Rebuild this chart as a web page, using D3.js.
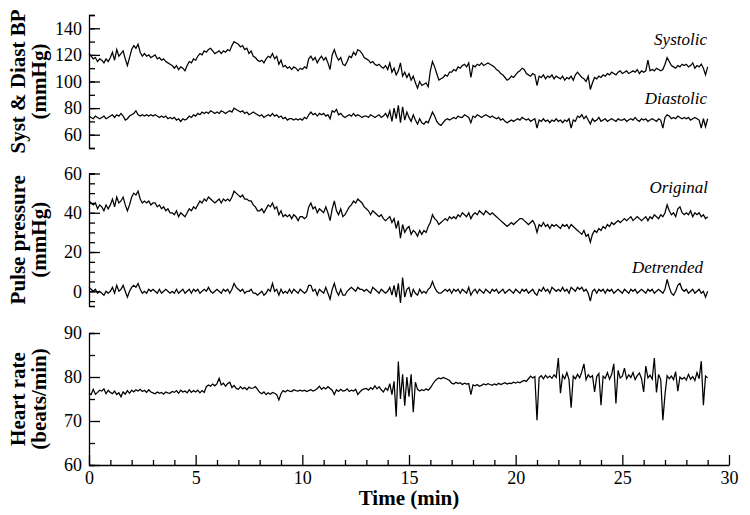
<!DOCTYPE html>
<html>
<head>
<meta charset="utf-8">
<script src="https://cdn.jsdelivr.net/npm/d3@7"></script>
<style>
  body { margin: 0; background: #fff; }
  svg { display: block; font-family: "Liberation Serif", "Times New Roman", serif; }
</style>
</head>
<body>
<div id="chart"></div>
<script>
// one value every 0.1 min, one row per minute (last value = 29.0 min)
const sampleStep = 0.1;

const systolic = [
  121,119,117,118,115,117,116,114,117,115,
  118,122,116,124,119,121,123,117,112,118,
  124,127,125,128,122,119,121,119,120,118,
  119,120,117,118,116,117,115,114,113,112,
  110,112,109,111,110,108,112,115,114,117,
  116,119,121,120,123,122,124,125,123,121,
  122,123,121,123,122,124,123,127,130,129,
  128,126,127,124,125,121,123,119,118,116,
  115,116,114,117,119,118,121,117,119,113,
  116,111,112,110,111,109,111,110,108,110,
  109,111,110,117,119,116,118,114,117,119,
  116,118,114,109,120,124,119,116,118,113,
  112,115,119,118,122,120,124,123,121,118,
  117,116,114,115,113,112,113,111,110,112,
  109,114,107,110,105,108,114,104,107,103,
  106,101,104,99,95,100,97,98,99,96,
  108,115,111,106,101,102,103,105,104,107,
  107,109,108,111,110,112,113,111,114,103,
  112,111,113,112,114,112,113,114,113,112,
  111,109,108,106,105,103,101,102,104,103,
  105,107,108,110,109,106,105,104,106,105,
  97,104,103,105,102,104,103,105,102,104,
  103,102,104,101,103,102,104,101,105,107,
  105,103,102,100,104,94,99,103,102,104,
  103,105,104,106,105,107,106,105,107,108,
  106,107,108,106,107,108,107,109,106,108,
  107,108,116,108,109,108,110,109,108,109,
  113,118,115,112,111,110,112,111,113,112,
  113,111,112,114,110,112,111,113,110,105,
  111
];

const diastolic = [
  74,73,72,74,73,72,73,74,72,73,
  74,75,73,75,74,76,74,71,72,74,
  75,76,78,75,74,75,74,75,74,75,
  74,75,74,73,74,73,74,72,73,72,
  73,71,72,70,72,71,72,74,73,75,
  74,76,75,77,76,77,76,78,77,76,
  77,76,78,77,76,77,78,77,80,79,
  78,77,78,76,77,75,76,77,76,75,
  74,75,73,74,75,74,76,74,75,73,
  74,72,73,71,72,72,71,72,71,72,
  71,73,72,75,77,75,76,74,76,75,
  76,74,75,72,78,77,79,75,76,74,
  73,74,75,74,76,74,75,74,73,74,
  74,73,75,74,73,74,75,73,74,76,
  73,78,70,80,72,82,69,81,71,77,
  73,70,75,71,68,72,69,68,70,69,
  73,77,74,70,68,67,69,71,72,71,
  72,73,72,74,73,73,75,74,73,69,
  74,73,75,74,73,74,75,74,73,74,
  73,72,73,71,72,70,69,70,71,70,
  71,72,71,73,72,71,72,70,71,72,
  65,71,70,72,70,71,69,71,70,72,
  70,71,69,71,70,72,65,71,70,74,
  73,75,72,74,71,68,72,70,71,73,
  70,71,72,70,71,72,71,70,72,71,
  71,72,70,71,72,71,73,71,70,72,
  71,72,70,71,72,71,70,72,71,65,
  73,75,74,72,73,72,74,73,72,73,
  72,73,71,72,73,72,71,65,72,66,
  72
];

const pulseOriginal = [
  46,45,44,45,42,44,43,41,44,42,
  44,47,43,48,45,46,48,44,41,44,
  48,50,49,51,47,45,46,45,46,44,
  45,45,43,44,42,43,41,42,40,40,
  39,41,38,40,39,38,40,42,41,43,
  42,44,46,45,47,46,48,47,46,45,
  46,47,45,47,46,47,46,48,51,50,
  49,48,49,47,47,46,46,44,43,41,
  41,42,40,42,44,43,45,42,43,39,
  41,38,39,38,39,37,39,38,36,38,
  38,37,38,43,45,42,43,40,42,41,
  40,43,40,36,42,46,41,39,42,38,
  39,41,43,44,46,45,47,46,45,43,
  42,41,39,41,40,39,38,39,37,36,
  37,38,35,37,32,36,27,34,30,32,
  33,29,31,30,28,31,29,31,30,33,
  35,39,37,36,34,35,36,37,36,38,
  37,38,37,39,38,40,39,38,40,37,
  39,40,39,41,40,39,41,40,39,40,
  39,38,37,36,35,34,33,34,35,34,
  35,36,37,37,36,35,34,35,36,34,
  30,34,33,35,33,34,32,34,33,34,
  33,32,34,33,34,32,34,33,32,31,
  30,29,31,28,29,25,29,31,30,32,
  31,33,32,34,33,35,34,35,36,35,
  36,37,36,37,38,36,37,38,37,36,
  37,38,36,38,37,39,38,37,39,38,
  40,44,41,39,40,38,42,43,40,39,
  40,39,41,38,40,39,40,38,39,37,
  38
];

const pulseDetrended = [
  2,1,0,1,-1,0,-1,-2,0,-1,
  0,2,-1,3,0,1,3,0,-3,0,
  2,3,2,4,1,-1,0,-1,1,0,
  1,0,-1,1,-1,0,1,0,-1,0,
  -1,1,-1,0,1,-1,0,1,-1,1,
  0,1,-1,0,1,0,2,0,-1,0,
  1,0,-1,1,0,1,-1,1,4,2,
  1,0,1,-1,0,0,1,-1,-1,-2,
  -1,0,-2,-1,1,0,4,0,1,-2,
  1,-1,0,-1,1,-1,1,0,-1,1,
  0,-1,0,3,3,0,1,-2,1,0,
  -1,2,-1,-4,1,4,0,-2,1,-2,
  -2,0,1,2,1,0,2,1,1,0,
  1,0,-1,2,1,0,-1,1,0,-1,
  0,2,-2,3,-3,4,-6,7,-3,1,
  2,-3,1,-1,-2,1,-1,0,-1,1,
  2,5,2,0,-1,-1,0,1,0,1,
  -1,1,0,1,-1,1,0,-1,2,-2,
  0,1,-1,1,0,-1,1,0,-1,1,
  0,1,-1,0,1,-1,0,1,0,-1,
  1,0,-1,1,0,1,-1,0,1,-1,
  -2,1,0,2,0,1,-1,2,1,0,
  1,0,2,0,1,-1,2,1,0,2,
  1,2,0,1,-1,-5,0,1,-1,1,
  0,1,-1,1,0,1,-1,0,1,0,
  -1,1,0,-1,1,0,1,-1,0,1,
  0,-1,1,0,1,-1,0,1,0,-1,
  1,6,2,-1,-2,0,3,4,1,0,
  1,-1,0,1,-1,0,1,-1,0,-3,
  0
];

const heartRate = [
  76.3,76.0,77.2,76.1,76.5,77.0,76.8,77.3,76.2,77.0,
  76.5,76.2,76.8,76.0,76.4,75.5,76.6,76.1,76.9,76.3,
  77.0,76.6,77.1,76.8,77.2,76.7,77.0,76.5,77.1,76.6,
  76.4,76.2,76.6,76.3,76.5,76.1,76.6,76.4,76.3,76.7,
  76.5,76.9,76.3,77.0,76.6,76.8,76.4,77.1,76.5,76.9,
  76.6,77.0,76.4,76.9,76.5,77.8,78.2,77.9,78.4,78.0,
  78.5,79.7,78.2,78.6,77.9,78.5,78.8,77.6,78.1,77.4,
  77.2,77.8,77.3,77.6,77.1,77.7,77.4,77.5,77.8,77.2,
  76.5,76.2,76.6,76.0,76.4,76.1,76.5,76.3,76.0,74.8,
  76.2,76.9,76.6,77.0,76.8,76.7,77.1,76.9,76.8,77.0,
  76.8,77.0,76.7,76.9,77.1,76.8,77.0,77.4,77.9,77.2,
  77.6,77.3,77.8,77.4,77.0,76.0,77.1,76.7,77.2,76.8,
  76.9,77.3,76.7,77.0,76.8,77.2,76.0,76.6,77.1,77.3,
  77.4,77.0,77.6,77.2,78.0,77.3,77.8,77.1,76.6,77.5,
  77.0,78.5,76.0,79.0,71.0,83.5,75.0,80.6,73.5,80.0,
  75.5,80.6,72.0,78.8,77.2,76.8,77.1,76.9,77.3,77.0,
  77.5,78.3,79.0,79.5,79.8,79.6,79.9,79.7,79.5,79.2,
  78.6,78.4,78.8,78.5,78.7,78.3,78.6,78.4,78.5,76.0,
  78.2,78.0,78.3,77.9,78.1,78.4,78.2,78.5,78.3,78.1,
  78.4,78.2,78.6,78.3,78.5,78.7,78.4,78.6,78.5,78.8,
  78.6,78.9,78.7,79.0,79.2,79.0,79.6,80.2,79.8,80.1,
  70.2,79.9,80.3,79.6,80.4,79.8,80.2,79.7,80.5,79.9,
  84.3,76.3,80.4,79.6,81.0,79.4,73.0,80.2,79.6,80.6,
  79.8,81.2,83.0,79.4,80.5,79.9,80.3,76.6,80.1,80.8,
  73.6,80.2,79.7,81.0,79.5,80.6,83.0,74.0,81.5,79.8,
  80.2,82.0,79.6,80.5,79.9,81.0,79.4,80.3,80.9,79.6,
  76.6,82.5,79.8,80.4,79.5,84.3,76.5,80.6,79.4,70.2,
  76.0,80.3,79.6,80.2,79.4,81.2,76.8,80.0,79.5,79.9,
  79.3,80.6,79.5,80.1,79.2,81.0,79.6,83.6,73.6,80.2,
  79.8
];

// tick values
const bpMajor = [60, 80, 100, 120, 140];
const bpMinor = [50, 60, 70, 80, 90, 100, 110, 120, 130, 140, 150];
const ppMajor = [0, 20, 40, 60];
const ppMinor = [-5, 0, 5, 10, 15, 20, 25, 30, 35, 40, 45, 50, 55, 60];
const hrMajor = [60, 70, 80, 90];
const hrMinor = [65, 75, 85];
const timeMajor = [0, 5, 10, 15, 20, 25, 30];
const timeMinor = [1,2,3,4,6,7,8,9,11,12,13,14,16,17,18,19,21,22,23,24,26,27,28,29];

const width = 750, height = 515;
const axisX = 89;

const svg = d3.select("#chart").append("svg")
    .attr("width", width)
    .attr("height", height);

const x = d3.scaleLinear().domain([0, 30]).range([axisX, 729]);

const panels = [
  { domain: [50, 150], range: [148, 15], major: bpMajor, minor: bpMinor,
    title: ["Syst & Diast BP", "(mmHg)"],
    series: [systolic, diastolic],
    notes: [{ text: "Systolic", x: 707, y: 45 }, { text: "Diastolic", x: 707, y: 104 }] },
  { domain: [-7.5, 60], range: [306, 173.5], major: ppMajor, minor: ppMinor,
    title: ["Pulse pressure", "(mmHg)"],
    series: [pulseOriginal, pulseDetrended],
    notes: [{ text: "Original", x: 708, y: 193 }, { text: "Detrended", x: 703, y: 273 }] },
  { domain: [60, 90], range: [465, 333], major: hrMajor, minor: hrMinor,
    title: ["Heart rate", "(beats/min)"],
    series: [heartRate],
    notes: [] }
];

function styleAxis(g) {
  g.selectAll("path, line").attr("stroke", "#000").attr("stroke-width", 1.3);
  g.selectAll("text")
    .attr("font-family", "'Liberation Serif', 'Times New Roman', serif")
    .attr("font-size", 18)
    .attr("fill", "#000");
}

panels.forEach(p => {
  const y = d3.scaleLinear().domain(p.domain).range(p.range);
  const g = svg.append("g");

  // minor ticks (inward)
  g.append("g")
    .attr("transform", `translate(${axisX},0)`)
    .call(d3.axisLeft(y).tickValues(p.minor).tickSizeInner(-6).tickSizeOuter(-6).tickFormat(""))
    .call(styleAxis);

  // major ticks + labels
  g.append("g")
    .attr("transform", `translate(${axisX},0)`)
    .call(d3.axisLeft(y).tickValues(p.major).tickSizeInner(-11).tickSizeOuter(0).tickPadding(7).tickFormat(d3.format("d")))
    .call(styleAxis)
    .call(a => a.select(".domain").remove());

  // traces
  const line = d3.line()
    .x((d, i) => x(i * sampleStep))
    .y(d => y(d));

  p.series.forEach(s => {
    g.append("path")
      .datum(s)
      .attr("fill", "none")
      .attr("stroke", "#000")
      .attr("stroke-width", 1.25)
      .attr("stroke-linejoin", "miter")
      .attr("d", line);
  });

  // italic trace names
  p.notes.forEach(n => {
    g.append("text")
      .attr("x", n.x)
      .attr("y", n.y)
      .attr("text-anchor", "end")
      .attr("font-style", "italic")
      .attr("font-size", 17)
      .text(n.text);
  });

  // y title, two lines
  const cy = (p.range[0] + p.range[1]) / 2;
  p.title.forEach((t, i) => {
    g.append("text")
      .attr("transform", `translate(${i === 0 ? 25 : 46},${cy}) rotate(-90)`)
      .attr("text-anchor", "middle")
      .attr("font-weight", "bold")
      .attr("font-size", 21)
      .text(t);
  });
});

// time axis, bottom panel only
svg.append("g")
  .attr("transform", "translate(0,465)")
  .call(d3.axisBottom(x).tickValues(timeMinor).tickSizeInner(-5).tickSizeOuter(0).tickFormat(""))
  .call(styleAxis);

svg.append("g")
  .attr("transform", "translate(0,465)")
  .call(d3.axisBottom(x).tickValues(timeMajor).tickSizeInner(-10).tickSizeOuter(0).tickPadding(6).tickFormat(d3.format("d")))
  .call(styleAxis)
  .call(a => a.select(".domain").remove());

svg.append("text")
  .attr("x", (x(0) + x(30)) / 2)
  .attr("y", 505)
  .attr("text-anchor", "middle")
  .attr("font-weight", "bold")
  .attr("font-size", 21)
  .text("Time (min)");
</script>
</body>
</html>
